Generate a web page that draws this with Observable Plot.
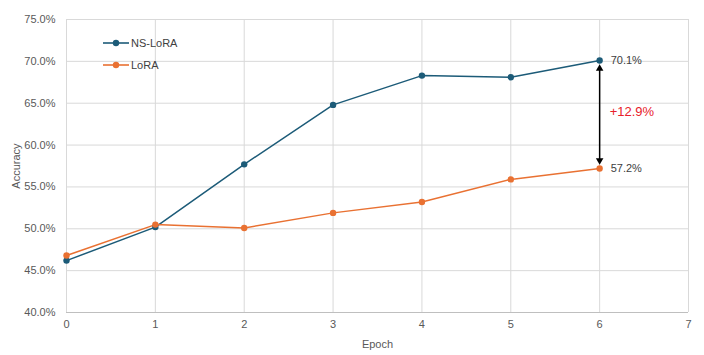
<!DOCTYPE html>
<html><head><meta charset="utf-8">
<script src="https://cdn.jsdelivr.net/npm/d3@7"></script>
<script src="https://cdn.jsdelivr.net/npm/@observablehq/plot@0.6"></script>
<style>
body{margin:0;background:#fff;font-family:"Liberation Sans",Arial,sans-serif;}
#wrap{position:relative;width:704px;height:355px;}
.leg{position:absolute;left:103px;font-size:11px;color:#404040;display:flex;align-items:center;}
.leg svg{margin-right:2px;}
</style></head>
<body><div id="wrap"></div>
<script>
const epochs = [0, 1, 2, 3, 4, 5, 6];
const nsLora = [46.2, 50.2, 57.7, 64.8, 68.3, 68.1, 70.1];
const lora = [46.8, 50.5, 50.1, 51.9, 53.2, 55.9, 57.2];
const seriesNames = ["NS-LoRA", "LoRA"];
const seriesColors = ["#1c5b78", "#e97132"];
const yTicks = [40, 45, 50, 55, 60, 65, 70, 75];
const xTicks = [0, 1, 2, 3, 4, 5, 6, 7];

const data = [];
epochs.forEach((e, i) => {
  data.push({epoch: e, acc: nsLora[i], series: seriesNames[0]});
  data.push({epoch: e, acc: lora[i], series: seriesNames[1]});
});
const lastIdx = epochs.length - 1;
const hiVal = nsLora[lastIdx], loVal = lora[lastIdx];
const gap = [{x: epochs[lastIdx], hi: hiVal, lo: loVal, label: "+" + (hiVal - loVal).toFixed(1) + "%", mid: (hiVal + loVal) / 2}];
const ends = [{epoch: epochs[lastIdx], acc: hiVal, label: hiVal.toFixed(1) + "%"}, {epoch: epochs[lastIdx], acc: loVal, label: loVal.toFixed(1) + "%"}];

const chart = Plot.plot({
  width: 704, height: 355,
  marginLeft: 66, marginRight: 16, marginTop: 19, marginBottom: 43,
  style: {fontFamily: "Liberation Sans, Arial, sans-serif", fontSize: "11px", color: "#595959", background: "#fff"},
  x: {domain: [0, 7], ticks: xTicks, tickSize: 0, tickPadding: 8, label: "Epoch", labelAnchor: "center", labelOffset: 35, labelArrow: "none", tickFormat: d => d},
  y: {domain: [40, 75], ticks: yTicks, tickSize: 0, tickPadding: 11, label: "Accuracy", labelAnchor: "center", labelOffset: 54, labelArrow: "none", tickFormat: d => d.toFixed(1) + "%"},
  color: {domain: seriesNames, range: seriesColors},
  marks: [
    Plot.gridX(xTicks, {stroke: "#d9d9d9", strokeOpacity: 1}),
    Plot.gridY(yTicks, {stroke: "#d9d9d9", strokeOpacity: 1}),
    Plot.ruleY([40], {stroke: "#bfbfbf"}),
    Plot.line(data, {x: "epoch", y: "acc", stroke: "series", strokeWidth: 1.5}),
    Plot.dot(data, {x: "epoch", y: "acc", fill: "series", r: 3.2}),
    Plot.ruleX(gap, {x: "x", y1: "hi", y2: "lo", stroke: "#000", strokeWidth: 1.5, insetTop: 8, insetBottom: 8}),
    Plot.dot(gap, {x: "x", y: "hi", symbol: "triangle2", fill: "#000", r: 3.6, dy: 8}),
    Plot.dot(gap, {x: "x", y: "lo", symbol: "triangle2", fill: "#000", r: 3.6, dy: -8, rotate: 180}),
    Plot.text(gap, {x: "x", y: "mid", text: "label", fill: "#e8202a", fontSize: 13, textAnchor: "start", dx: 10, dy: -3}),
    Plot.text(ends, {x: "epoch", y: "acc", text: "label", fill: "#404040", fontSize: 11, textAnchor: "start", dx: 11})
  ]
});
const wrap = document.getElementById("wrap");
wrap.appendChild(chart);
seriesNames.forEach((n, i) => {
  const d = document.createElement("div");
  d.className = "leg";
  d.style.top = (37 + i * 22) + "px";
  d.innerHTML = `<svg width="26" height="12"><line x1="0" x2="26" y1="6" y2="6" stroke="${seriesColors[i]}" stroke-width="1.6"/><circle cx="13" cy="6" r="3.2" fill="${seriesColors[i]}"/></svg>${n}`;
  wrap.appendChild(d);
});
</script></body></html>
